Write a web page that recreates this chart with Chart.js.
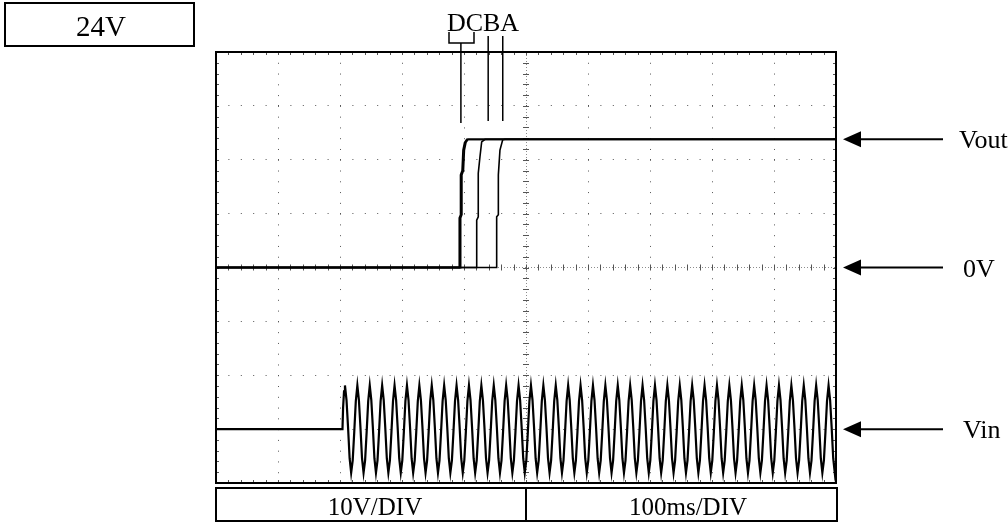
<!DOCTYPE html>
<html>
<head>
<meta charset="utf-8">
<script src="https://cdn.jsdelivr.net/npm/chart.js@4.4.1/dist/chart.umd.min.js"></script>
<style>
  html, body { margin: 0; padding: 0; background: #fff; }
  #wrap { width: 1008px; height: 528px; }
</style>
</head>
<body>
<div id="wrap"><canvas id="scope" width="1008" height="528"></canvas></div>
<script>
// Scope capture: Vout start-up for cases D, C, B, A with a 24V input
// x = time in ms (100ms/DIV), y = volts (10V/DIV)

const timeTicks = [0, 100, 200, 300, 400, 500, 600, 700, 800, 900, 1000];
const voltTicks = [-40, -30, -20, -10, 0, 10, 20, 30, 40];

// Vout traces (ms, V)
const voutD_t = [0, 392.5, 392.5, 394.5, 394.5, 397, 398.5, 401, 404.5, 1000];
const voutD_v = [0, 0, 9.2, 9.8, 17.2, 18, 21.8, 23.2, 23.8, 23.8];
const voutC_t = [0, 394.5, 394.5, 396.5, 396.5, 399, 400.5, 403, 406.5, 1000];
const voutC_v = [0, 0, 9.2, 9.8, 17.2, 18, 21.8, 23.2, 23.8, 23.8];
const voutB_t = [0, 420.5, 420.5, 423, 423, 425.8, 428.5, 433.9, 1000];
const voutB_v = [0, 0, 8.8, 9.4, 17.5, 20.6, 23.3, 23.8, 23.8];
const voutA_t = [0, 452.7, 452.7, 455.4, 455.4, 458, 462.4, 466, 1000];
const voutA_v = [0, 0, 9.4, 9.8, 17.2, 21.8, 23.7, 23.8, 23.8];

// Vin: idle level, then the AC input (one measured cycle, repeated each period)
const vinIdle = -30;
const vinStartMs = 204;
const vinRiseMs = [205, 206.5];
const vinRiseV = [4, 7];
const vinFirstPeakMs = 208;
const vinPeriodMs = 20;
const vinCycles = 40;
const vinCycleOffsetMs = [0, 2.5, 5, 7.5, 10, 12.5, 15, 17.5];
const vinCycleV = [8.1, 5.4, 0.3, -5.4, -8.1, -5.8, -0.5, 5.2];

// Right-hand markers and bottom table
const markerLevels = [23.8, 0, -30];
const markerNames = ['Vout', '0V', 'Vin'];
const traceNames = ['D', 'C', 'B', 'A'];
const tableLabels = ['10V/DIV', '100ms/DIV'];

const pts = (ts, vs) => ts.map((t, i) => ({ x: t, y: vs[i] }));

const vinPts = [{ x: 0, y: vinIdle }, { x: vinStartMs, y: vinIdle }];
vinRiseMs.forEach((t, i) => vinPts.push({ x: t, y: vinIdle + vinRiseV[i] }));
for (let k = 0; k < vinCycles; k++) {
    vinCycleOffsetMs.forEach((o, j) => {
        vinPts.push({ x: vinFirstPeakMs + k * vinPeriodMs + o, y: vinIdle + vinCycleV[j] });
    });
}

const SERIF = '"Liberation Serif", "DejaVu Serif", serif';

// minor tick marks along the frame and the centre cross, then the frame itself
const graticule = {
    id: 'graticule',
    beforeDatasetsDraw(chart) {
        const { ctx, chartArea: a, scales: { x, y } } = chart;
        const cx = x.getPixelForValue(500), cy = y.getPixelForValue(0);
        ctx.save();
        ctx.strokeStyle = '#555';
        ctx.lineWidth = 1;
        ctx.beginPath();
        for (let t = 0; t <= 1000; t += 20) {
            const px = Math.round(x.getPixelForValue(t)) + 0.5;
            ctx.moveTo(px, cy - 3); ctx.lineTo(px, cy + 3);
            ctx.moveTo(px, a.top); ctx.lineTo(px, a.top + 3);
            ctx.moveTo(px, a.bottom); ctx.lineTo(px, a.bottom - 3);
        }
        for (let v = -40; v <= 40; v += 2) {
            const py = Math.round(y.getPixelForValue(v)) + 0.5;
            ctx.moveTo(cx - 3, py); ctx.lineTo(cx + 3, py);
            ctx.moveTo(a.left, py); ctx.lineTo(a.left + 3, py);
            ctx.moveTo(a.right, py); ctx.lineTo(a.right - 3, py);
        }
        ctx.stroke();
        ctx.restore();
    },
    afterDatasetsDraw(chart) {
        const { ctx, chartArea: a } = chart;
        ctx.save();
        ctx.strokeStyle = '#000';
        ctx.lineWidth = 2;
        ctx.strokeRect(a.left, a.top, a.right - a.left, a.bottom - a.top);
        ctx.restore();
    }
};

// labels, arrows, boxes around the plot
const notes = {
    id: 'notes',
    afterDraw(chart) {
        const { ctx, chartArea: a, scales: { x, y } } = chart;
        ctx.save();
        ctx.fillStyle = '#000';
        ctx.strokeStyle = '#000';
        ctx.textBaseline = 'alphabetic';

        // supply voltage box
        ctx.lineWidth = 2;
        ctx.strokeRect(5, 3, 189, 43);
        ctx.font = '29px ' + SERIF;
        ctx.textAlign = 'center';
        ctx.fillText('24V', 101, 36);

        // trace names and pointer lines
        ctx.font = '26px ' + SERIF;
        ctx.fillText(traceNames.join(''), 483, 31);
        ctx.lineWidth = 1.5;
        const xDC = x.getPixelForValue(395), xB = x.getPixelForValue(439), xA = x.getPixelForValue(462.5);
        ctx.beginPath();
        ctx.moveTo(449, 32); ctx.lineTo(449, 43); ctx.lineTo(474, 43); ctx.lineTo(474, 32);
        ctx.moveTo(xDC, 43); ctx.lineTo(xDC, 123);
        ctx.moveTo(xB, 36); ctx.lineTo(xB, 121);
        ctx.moveTo(xA, 36); ctx.lineTo(xA, 121);
        ctx.stroke();

        // arrows on the right
        ctx.font = '26px ' + SERIF;
        ctx.textAlign = 'left';
        markerLevels.forEach((lv, i) => {
            const py = y.getPixelForValue(lv);
            const tip = a.right + 7;
            ctx.lineWidth = 2;
            ctx.beginPath();
            ctx.moveTo(tip + 16, py); ctx.lineTo(943, py);
            ctx.stroke();
            ctx.beginPath();
            ctx.moveTo(tip, py); ctx.lineTo(tip + 18, py - 8); ctx.lineTo(tip + 18, py + 8);
            ctx.closePath();
            ctx.fill();
            ctx.fillText(markerNames[i], i === 0 ? 959 : 963, py + 9);
        });

        // bottom table
        ctx.font = '25px ' + SERIF;
        ctx.lineWidth = 2;
        ctx.strokeRect(216, 488, 621, 33);
        ctx.beginPath();
        ctx.moveTo(526, 488); ctx.lineTo(526, 521);
        ctx.stroke();
        ctx.textAlign = 'center';
        ctx.fillText(tableLabels[0], 375, 515);
        ctx.fillText(tableLabels[1], 688, 515);
        ctx.restore();
    }
};

const line = (data, w) => ({
    data, borderColor: '#000', borderWidth: w, pointRadius: 0, tension: 0, fill: false
});

new Chart(document.getElementById('scope').getContext('2d'), {
    type: 'line',
    data: {
        datasets: [
            line(pts(voutA_t, voutA_v), 1.6),
            line(pts(voutB_t, voutB_v), 1.6),
            line(pts(voutC_t, voutC_v), 1.8),
            line(pts(voutD_t, voutD_v), 1.8),
            line(vinPts, 2.2)
        ]
    },
    options: {
        responsive: false,
        animation: false,
        events: [],
        layout: { padding: { left: 216, top: 52, right: 172, bottom: 45 } },
        plugins: { legend: { display: false }, tooltip: { enabled: false } },
        scales: {
            x: {
                type: 'linear', min: 0, max: 1000,
                afterBuildTicks: s => { s.ticks = timeTicks.map(v => ({ value: v })); },
                ticks: { display: false },
                grid: {
                    drawTicks: false, lineWidth: 1,
                    color: c => c.tick.value === 500 ? '#8c8c8c' : '#555'
                },
                border: {
                    display: false,
                    dash: c => c.tick && c.tick.value === 500 ? [1, 2] : [1, 9.775]
                }
            },
            y: {
                type: 'linear', min: -40, max: 40,
                afterBuildTicks: s => { s.ticks = voltTicks.map(v => ({ value: v })); },
                ticks: { display: false },
                grid: {
                    drawTicks: false, lineWidth: 1,
                    color: c => c.tick.value === 0 ? '#8c8c8c' : '#555'
                },
                border: {
                    display: false,
                    dash: c => c.tick && c.tick.value === 0 ? [1, 2] : [1, 11.4]
                }
            }
        }
    },
    plugins: [graticule, notes]
});
</script>
</body>
</html>
